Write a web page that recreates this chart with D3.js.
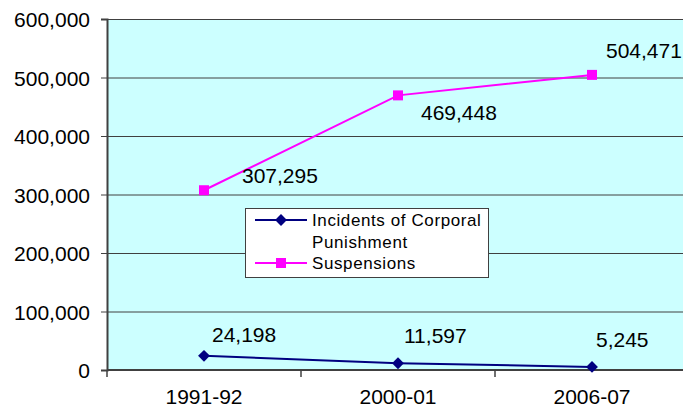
<!DOCTYPE html>
<html>
<head>
<meta charset="utf-8">
<script src="https://cdn.jsdelivr.net/npm/d3@7"></script>
<style>
    body { margin: 0; background: #fff; }
    text { font-family: "Liberation Sans", Arial, sans-serif; fill: #000; }
</style>
</head>
<body>
<div id="chart"></div>
<script>
// data
const years = ["1991-92", "2000-01", "2006-07"];
const corporal = [24198, 11597, 5245];
const suspensions = [307295, 469448, 504471];
const yTicks = [0, 100000, 200000, 300000, 400000, 500000, 600000];

// label offsets relative to the point (dx, dy)
const corporalLabelPos = [[8, -14], [6, -20], [4, -20]];
const suspLabelPos = [[38, -7], [23, 25], [14, -17]];

const width = 683, height = 412;
const margin = {top: 19, left: 107, bottom: 42};

const svg = d3.select("#chart").append("svg")
    .attr("width", width)
    .attr("height", height);

// scales
const x = d3.scaleBand()
    .domain(years)
    .range([margin.left, margin.left + 3 * 194]);

const y = d3.scaleLinear()
    .domain([0, 600000])
    .range([height - margin.bottom, margin.top]);

// plot background
svg.append("rect")
    .attr("x", margin.left)
    .attr("y", y(600000))
    .attr("width", width - margin.left)
    .attr("height", y(0) - y(600000))
    .attr("fill", "#CCFFFF");

// gridlines
svg.append("g")
    .selectAll("line")
    .data(yTicks.filter(d => d > 0))
    .join("line")
    .attr("x1", margin.left)
    .attr("x2", width)
    .attr("y1", d => y(d) + 0.5)
    .attr("y2", d => y(d) + 0.5)
    .attr("stroke", "#404040")
    .attr("stroke-width", 1);

// y axis
const yAxis = svg.append("g")
    .attr("transform", `translate(${margin.left},0)`)
    .call(d3.axisLeft(y).tickValues(yTicks).tickSize(6).tickPadding(11)
        .tickFormat(d3.format(",")));
yAxis.select(".domain").attr("stroke", "#404040").attr("stroke-width", 2);
yAxis.selectAll(".tick line").attr("stroke", "#404040");
yAxis.selectAll("text")
    .style("font-size", "21px")
    .style("font-family", "Liberation Sans, Arial, sans-serif")
    .attr("dy", "0.36em");

// x axis
const xAxisG = svg.append("g")
    .attr("transform", `translate(0,${y(0)})`);
xAxisG.append("line")
    .attr("x1", margin.left)
    .attr("x2", width)
    .attr("stroke", "#404040")
    .attr("stroke-width", 2);
xAxisG.selectAll(".xtick")
    .data(years)
    .join("line")
    .attr("class", "xtick")
    .attr("x1", d => x(d))
    .attr("x2", d => x(d))
    .attr("y1", 0)
    .attr("y2", 7)
    .attr("stroke", "#404040")
    .attr("stroke-width", 1.5);
xAxisG.selectAll(".xlabel")
    .data(years)
    .join("text")
    .attr("class", "xlabel")
    .attr("x", d => x(d) + x.bandwidth() / 2)
    .attr("y", 34)
    .attr("text-anchor", "middle")
    .style("font-size", "21px")
    .text(d => d);

const cx = d => x(d) + x.bandwidth() / 2;

// series
const series = [
    {name: "Incidents of Corporal Punishment", values: corporal, color: "#000080", shape: d3.symbolDiamond2, size: 90, labels: corporalLabelPos},
    {name: "Suspensions", values: suspensions, color: "#FF00FF", shape: d3.symbolSquare, size: 100, labels: suspLabelPos}
];

const line = d3.line()
    .x(d => cx(d.year))
    .y(d => y(d.value));

series.forEach(s => {
    const pts = years.map((yr, i) => ({year: yr, value: s.values[i], off: s.labels[i]}));

    svg.append("path")
        .datum(pts)
        .attr("d", line)
        .attr("fill", "none")
        .attr("stroke", s.color)
        .attr("stroke-width", 2);

    svg.append("g")
        .selectAll("path")
        .data(pts)
        .join("path")
        .attr("transform", d => `translate(${cx(d.year)},${y(d.value)})`)
        .attr("d", d3.symbol().type(s.shape).size(s.size))
        .attr("fill", s.color);

    svg.append("g")
        .selectAll("text")
        .data(pts)
        .join("text")
        .attr("x", d => cx(d.year) + d.off[0])
        .attr("y", d => y(d.value) + d.off[1])
        .style("font-size", "21px")
        .text(d => d3.format(",")(d.value));
});

// legend
const legend = svg.append("g").attr("transform", "translate(245,208)");
legend.append("rect")
    .attr("x", 0.5)
    .attr("y", 0.5)
    .attr("width", 243)
    .attr("height", 69)
    .attr("fill", "#fff")
    .attr("stroke", "#404040")
    .attr("stroke-width", 1);

const legRows = [
    {s: series[0], y: 12, lines: ["Incidents of Corporal", "Punishment"]},
    {s: series[1], y: 55, lines: ["Suspensions"]}
];
legRows.forEach(r => {
    legend.append("line")
        .attr("x1", 10).attr("x2", 62)
        .attr("y1", r.y).attr("y2", r.y)
        .attr("stroke", r.s.color)
        .attr("stroke-width", 2);
    legend.append("path")
        .attr("transform", `translate(36,${r.y})`)
        .attr("d", d3.symbol().type(r.s.shape).size(r.s.size))
        .attr("fill", r.s.color);
    r.lines.forEach((t, i) => {
        legend.append("text")
            .attr("x", 67)
            .attr("y", r.y + 6 + i * 22)
            .style("font-size", "17px")
            .style("letter-spacing", "0.6px")
            .text(t);
    });
});
</script>
</body>
</html>
